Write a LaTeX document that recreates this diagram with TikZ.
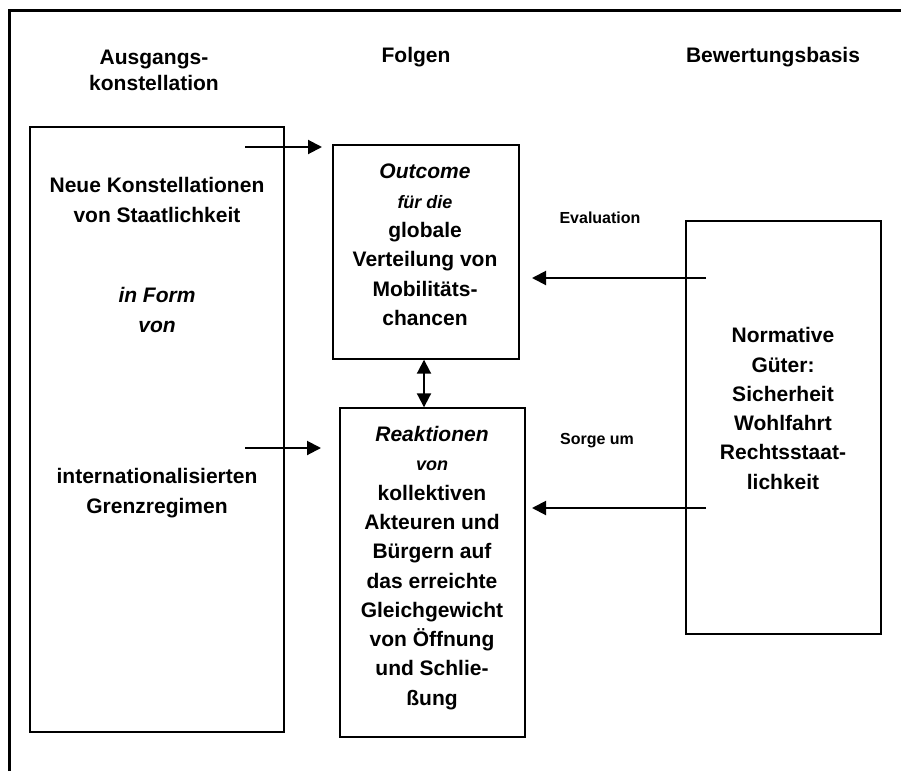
\documentclass[tikz,border=0pt]{standalone}
\usepackage{fontspec}
\setmainfont{Liberation Sans}
\usetikzlibrary{arrows.meta,positioning}

\begin{document}
\begin{tikzpicture}[x=1pt,y=-1pt,->,>={Triangle[length=14pt,width=14pt]},line width=2pt]
    \tikzstyle{box}=[draw=black, rectangle, inner sep=0pt, line width=1.4pt]
    \tikzstyle{txt}=[align=center, inner sep=0pt, font=\fontsize{21}{29.3}\selectfont\bfseries]
    \tikzstyle{head}=[style=txt, font=\fontsize{21}{26}\selectfont\bfseries]
    \tikzstyle{lbl}=[inner sep=0pt, font=\fontsize{16}{19}\selectfont\bfseries]
    \newcommand{\klein}[1]{{\fontsize{18}{29.3}\selectfont\itshape #1}}

    \useasboundingbox (0,0) rectangle (901,771);
    \draw[-,line width=3pt] (9,771) -- (9,10) -- (901,10);

    % column heads
    \node[head] (hAus)  at (154,70) {Ausgangs-\\konstellation};
    \node[head] (hFol)  at (416,57) {Folgen};
    \node[head] (hBew)  at (773,57) {Bewertungsbasis};

    % boxes
    \node[box, minimum width=254pt, minimum height=605pt] (links)    at (157,429.5) {};
    \node[box, minimum width=186pt, minimum height=214pt] (outcome)  at (426,252)   {};
    \node[box, minimum width=185pt, minimum height=329pt] (reaktion) at (432.5,572.5) {};
    \node[box, minimum width=195pt, minimum height=413pt] (basis)    at (783.5,427.5) {};

    % texts
    \node[txt] (neue)  at (157,200) {Neue Konstellationen\\von Staatlichkeit};
    \node[txt] (form)  at (157,310) {\itshape in Form\\\itshape von};
    \node[txt] (grenz) at (157,493) {internationalisierten\\Grenzregimen};
    \node[txt] (outtxt) at (425,245)
      {{\itshape Outcome}\\\klein{für die}\\globale\\Verteilung von\\Mobilitäts-\\chancen};
    \node[txt] (reatxt) at (432,568)
      {{\itshape Reaktionen}\\\klein{von}\\kollektiven\\Akteuren und\\Bürgern auf\\das erreichte\\Gleichgewicht\\von Öffnung\\und Schlie-\\ßung};
    \node[txt] (bastxt) at (783,408.5)
      {Normative\\Güter:\\Sicherheit\\Wohlfahrt\\Rechtsstaat-\\lichkeit};
    \node[lbl] (eval)  at (600,218) {Evaluation};
    \node[lbl] (sorge) at (597,441) {Sorge um};

    % free ends of the arrows
    \coordinate (inA)   at (245,147);
    \coordinate (inAe)  at (322,147);
    \coordinate (inB)   at (245,448);
    \coordinate (inBe)  at (321,448);
    \coordinate (evS)   at (706,278);
    \coordinate (evE)   at (532,278);
    \coordinate (soS)   at (706,508);
    \coordinate (soE)   at (532,508);
    \coordinate (mitte) at (424,0);

    \draw (inA) -- (inAe);
    \draw (inB) -- (inBe);
    \draw (evS) -- (evE);
    \draw (soS) -- (soE);
    \draw[<->] (outcome.south -| mitte) -- (reaktion.north -| mitte);
\end{tikzpicture}
\end{document}
